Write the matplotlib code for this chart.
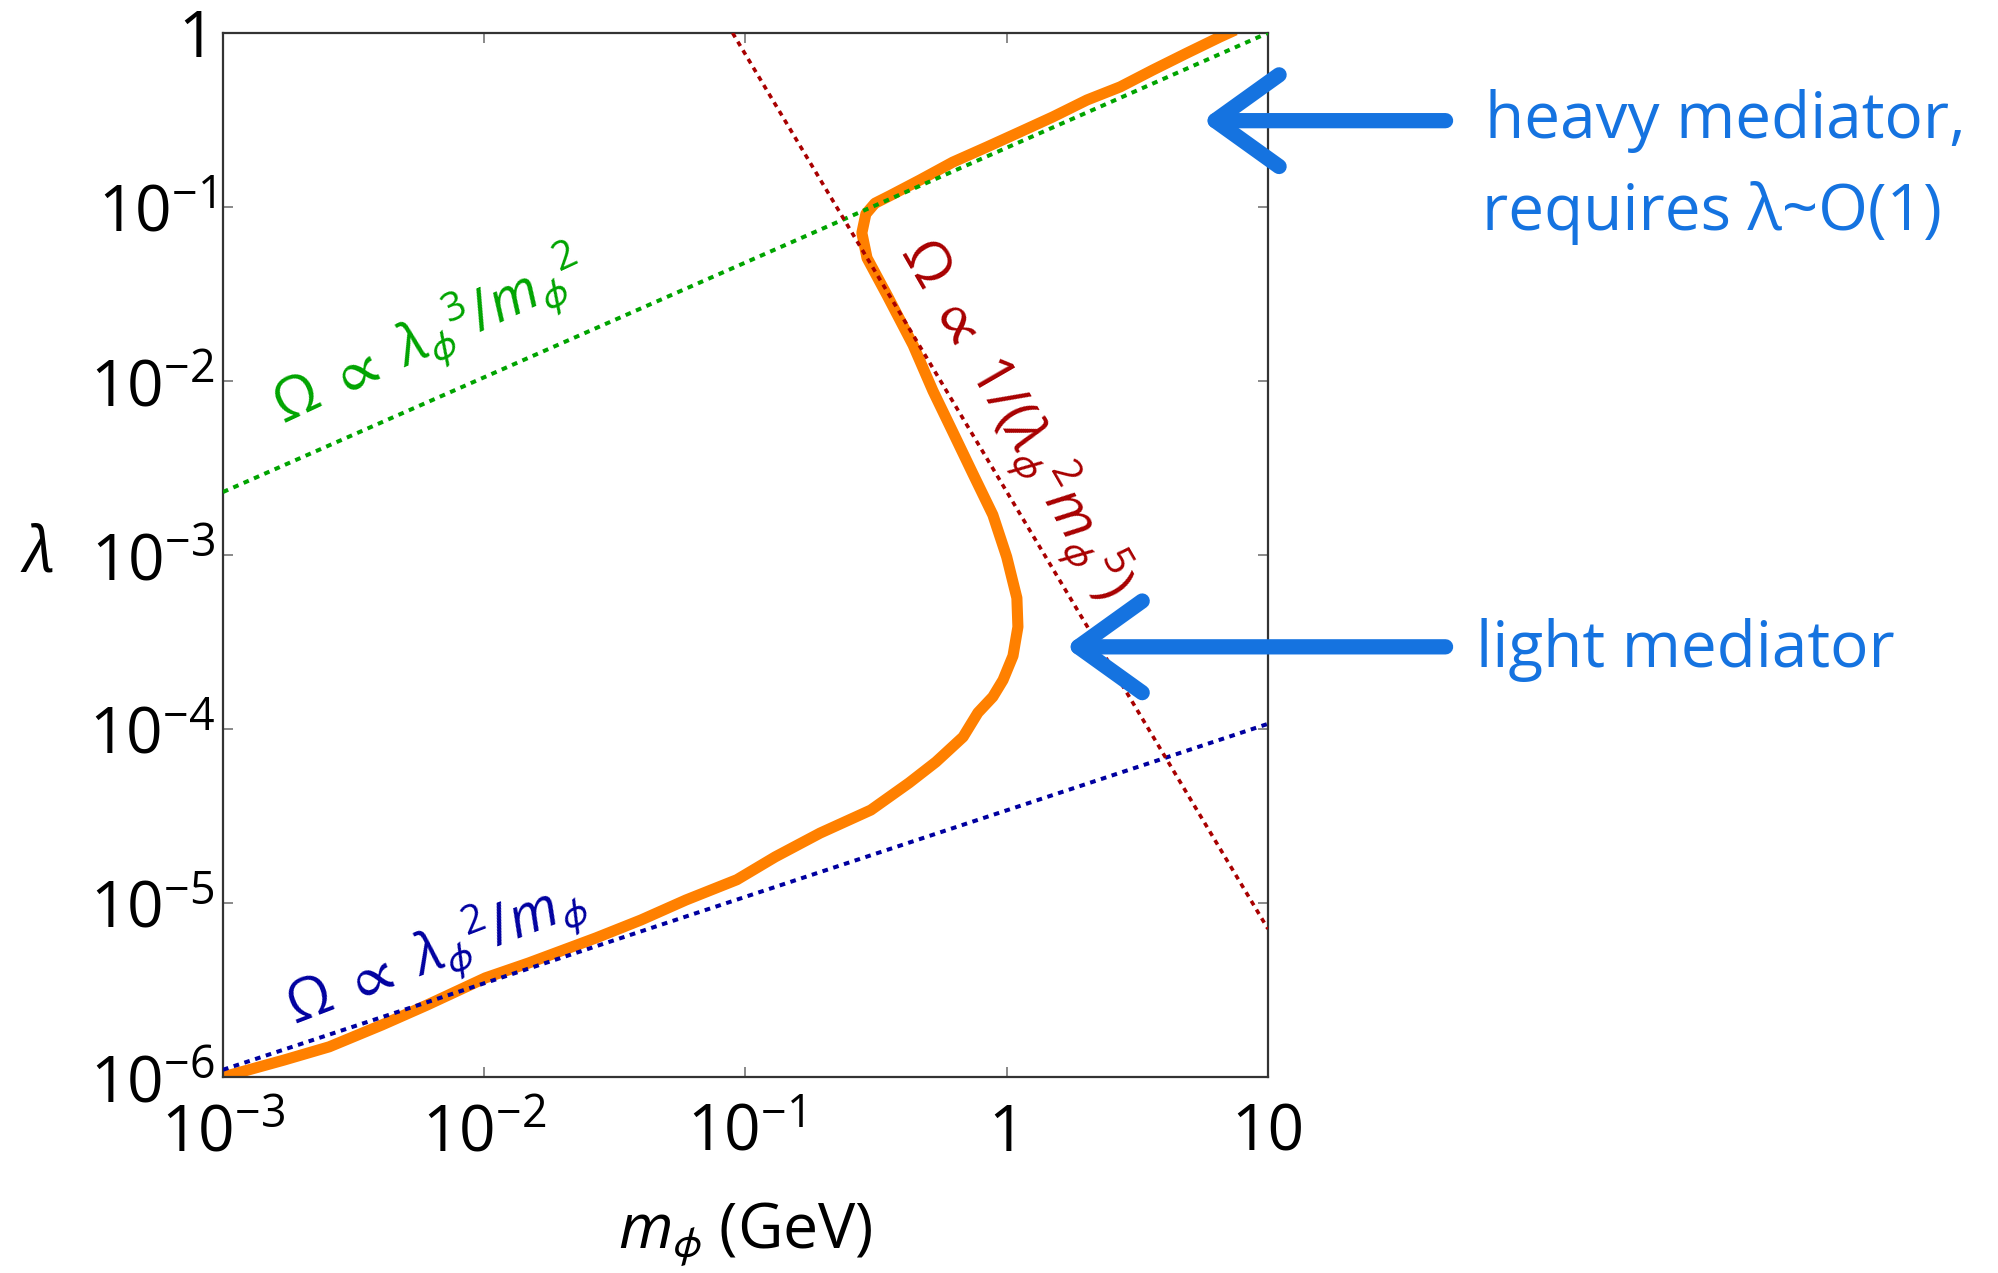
import matplotlib
matplotlib.use('Agg')
import matplotlib.pyplot as plt
from matplotlib.ticker import FixedLocator, FixedFormatter, NullLocator

plt.rcParams['font.family'] = ['Open Sans', 'DejaVu Sans']
plt.rcParams['mathtext.fontset'] = 'custom'
plt.rcParams['mathtext.rm'] = 'Open Sans'
plt.rcParams['mathtext.it'] = 'Open Sans:italic'
plt.rcParams['mathtext.bf'] = 'Open Sans:bold'
plt.rcParams['mathtext.fallback'] = 'stixsans'

# relic abundance contour (orange)
m_phi = [1.0e-3, 1.71e-3, 2.55e-3, 4.06e-3, 6.04e-3, 1.01e-2, 1.48e-2, 2.68e-2,
         3.98e-2, 5.92e-2, 9.27e-2, 0.130, 0.193, 0.302, 0.423, 0.536, 0.681,
         0.776, 0.885, 0.968, 1.057, 1.104, 1.094, 1.00, 0.885, 0.743, 0.622,
         0.522, 0.438, 0.348, 0.292, 0.279, 0.289, 0.313, 0.357, 0.466, 0.622,
         0.839, 1.125, 1.50, 2.03, 2.72, 3.63, 4.90, 6.55, 7.5]
lam = [1.0e-6, 1.25e-6, 1.49e-6, 1.99e-6, 2.59e-6, 3.71e-6, 4.52e-6, 6.3e-6,
       7.98e-6, 1.04e-5, 1.36e-5, 1.84e-5, 2.52e-5, 3.42e-5, 4.9e-5, 6.46e-5,
       9.0e-5, 1.24e-4, 1.53e-4, 1.91e-4, 2.63e-4, 3.86e-4, 5.66e-4, 9.75e-4,
       1.70e-3, 2.92e-3, 5.09e-3, 8.77e-3, 1.61e-2, 3.12e-2, 5.09e-2, 7.09e-2,
       9.12e-2, 0.105, 0.116, 0.143, 0.181, 0.221, 0.270, 0.329, 0.412, 0.490,
       0.613, 0.767, 0.948, 1.04]

# scaling lines (end points)
heavy_m = [1e-3, 10]
heavy_lam = [2.3e-3, 1.0]
light_m = [1e-3, 10]
light_lam = [1.1e-6, 1.07e-4]
mid_m = [0.0893, 10]
mid_lam = [1.0, 7.1e-6]

x_ticks = [1e-3, 1e-2, 1e-1, 1, 10]
x_labels = [r'$10^{-3}$', r'$10^{-2}$', r'$10^{-1}$', '1', '10']
y_ticks = [1e-6, 1e-5, 1e-4, 1e-3, 1e-2, 1e-1, 1]
y_labels = [r'$10^{-6}$', r'$10^{-5}$', r'$10^{-4}$', r'$10^{-3}$',
            r'$10^{-2}$', r'$10^{-1}$', '1']

c_orange = '#ff8000'
c_green = '#00a400'
c_blue = '#0000a0'
c_red = '#a80000'
c_arrow = '#1573e0'

fig = plt.figure(figsize=(19.98, 12.73), dpi=100)
ax = fig.add_axes([0.1116, 0.1540, 0.5230, 0.8201])

dots = (0, (1.4, 1.4))
ax.plot(heavy_m, heavy_lam, color=c_green, lw=2.9, linestyle=dots, zorder=3)
ax.plot(light_m, light_lam, color=c_blue, lw=2.9, linestyle=dots, zorder=3)
ax.plot(mid_m, mid_lam, color=c_red, lw=2.6, linestyle=dots, zorder=3)
ax.plot(m_phi, lam, color=c_orange, lw=8, solid_joinstyle='round',
        solid_capstyle='butt', zorder=2)

ax.set_xscale('log')
ax.set_yscale('log')
ax.set_xlim(1e-3, 10)
ax.set_ylim(1e-6, 1)

ax.xaxis.set_major_locator(FixedLocator(x_ticks))
ax.xaxis.set_major_formatter(FixedFormatter(x_labels))
ax.yaxis.set_major_locator(FixedLocator(y_ticks))
ax.yaxis.set_major_formatter(FixedFormatter(y_labels))
ax.xaxis.set_minor_locator(NullLocator())
ax.yaxis.set_minor_locator(NullLocator())
ax.tick_params(which='major', direction='in', length=7, width=1.3,
               color='#808080', top=True, right=True, labelsize=46)
ax.tick_params(axis='x', pad=18)
ax.tick_params(axis='y', pad=6)
for s in ax.spines.values():
    s.set_color('#333333')
    s.set_linewidth(1.6)

ax.set_xlabel(r'$m_{\phi}$ (GeV)', fontsize=45, labelpad=25)
ax.set_ylabel(r'$\lambda$', fontsize=46, rotation=0, va='center')
ax.yaxis.set_label_coords(-0.178, 0.5)

# labels on the scaling lines
ax.text(6.2e-3, 1.75e-2, r'$\Omega\ \propto\ \lambda_{\phi}{}^{3}/m_{\phi}{}^{2}$',
        color=c_green, fontsize=41, rotation=25, ha='center', va='center')
ax.text(6.5e-3, 5.1e-6, r'$\Omega\ \propto\ \lambda_{\phi}{}^{2}/m_{\phi}$',
        color=c_blue, fontsize=41, rotation=21, ha='center', va='center')
ax.text(1.07, 6.0e-3, r'$\Omega\ \propto\ 1/(\lambda_{\phi}{}^{2}m_{\phi}{}^{5})$',
        color=c_red, fontsize=41, rotation=-60, ha='center', va='center')

# hand-drawn style arrows and notes
arrow = dict(arrowstyle='->, head_length=2.3, head_width=1.65', lw=11,
             color=c_arrow, mutation_scale=20, shrinkA=0, shrinkB=0,
             capstyle='round', joinstyle='round')
ax.annotate('', xy=(0.937, 0.916), xytext=(1.170, 0.916),
            xycoords='axes fraction', arrowprops=arrow, annotation_clip=False)
ax.annotate('', xy=(0.806, 0.412), xytext=(1.170, 0.412),
            xycoords='axes fraction', arrowprops=arrow, annotation_clip=False)

ax.text(1.208, 0.916, 'heavy mediator,', transform=ax.transAxes,
        color=c_arrow, fontsize=46, ha='left', va='center')
ax.text(1.205, 0.828, 'requires λ~O(1)', transform=ax.transAxes,
        color=c_arrow, fontsize=46, ha='left', va='center')
ax.text(1.199, 0.409, 'light mediator', transform=ax.transAxes,
        color=c_arrow, fontsize=46, ha='left', va='center')

fig.savefig('out.png', dpi=100)
